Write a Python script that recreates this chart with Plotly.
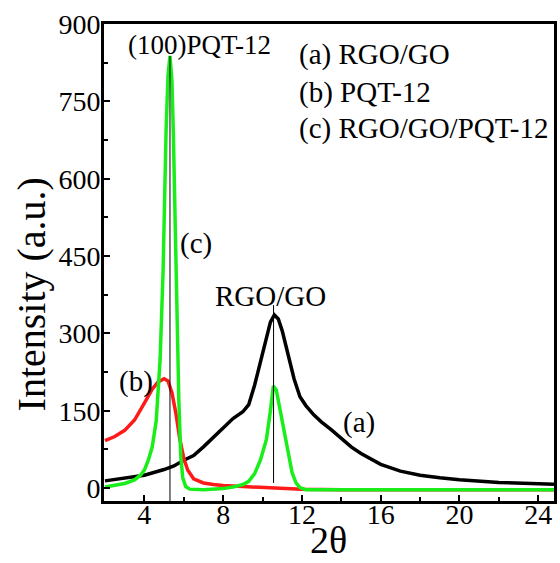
import plotly.graph_objects as go

# ---- data ----
x_a = [2.0, 3.0, 4.0, 5.0, 5.5, 6.0, 6.5, 7.0, 7.5, 8.0, 8.5, 9.0, 9.3, 9.6, 9.9, 10.2, 10.4, 10.6,
       10.8, 11.0, 11.3, 11.6, 11.9, 12.2, 12.6, 13.0, 13.5, 14.0, 14.5, 15.0, 15.5, 16.0, 17.0,
       18.0, 19.0, 20.0, 22.0, 24.0, 25.0]
y_a = [14, 19, 25, 36, 43, 54, 63, 80, 98, 118, 135, 148, 162, 200, 248, 295, 322, 336,
       328, 305, 258, 212, 177, 160, 142, 128, 113, 97, 80, 67, 56, 46, 33,
       25, 20, 16, 11, 8, 7]

x_b = [2.0, 2.5, 3.0, 3.5, 4.0, 4.4, 4.7, 5.0, 5.2, 5.4, 5.6, 5.8, 6.0, 6.2, 6.5, 7.0, 7.5,
       8.0, 9.0, 10.0, 11.0, 12.0, 14.0, 25.0]
y_b = [92, 100, 112, 132, 165, 192, 206, 212, 208, 185, 145, 95, 58, 35, 18, 10, 7,
       5, 3, 1, -1, -2, -3, -3]

x_c = [2.0, 2.5, 3.0, 3.5, 3.8, 4.0, 4.2, 4.4, 4.6, 4.8, 4.95, 5.1, 5.2, 5.3, 5.4, 5.47, 5.6,
       5.75, 5.85, 5.95, 6.1, 6.3, 7.0, 8.0, 8.5, 9.0, 9.3, 9.6, 9.9, 10.2, 10.4, 10.55, 10.7,
       10.85, 11.0, 11.25, 11.5, 11.7, 11.9, 12.2, 25.0]
y_c = [2, 5, 9, 16, 25, 35, 54, 80, 130, 250, 420, 690, 800, 838, 790, 690, 440,
       170, 60, 20, 3, -2, -3, -1, 2, 7, 13, 28, 55, 95, 150, 198, 190,
       160, 130, 75, 30, 10, 1, -3, -3]

# peak marker lines (position, bottom, top)
peak_x = [5.3, 10.56]
peak_lo = [-25, 10]
peak_hi = [838, 355]

y_ticks = [0, 150, 300, 450, 600, 750, 900]
x_ticks = [4, 8, 12, 16, 20, 24]

FONT = "Liberation Serif"

fig = go.Figure()
fig.add_trace(go.Scatter(x=x_a, y=y_a, mode="lines", line=dict(color="black", width=3.5)))
fig.add_trace(go.Scatter(x=x_b, y=y_b, mode="lines", line=dict(color="#ff1a1a", width=3.5)))
fig.add_trace(go.Scatter(x=x_c, y=y_c, mode="lines", line=dict(color="#1aee1a", width=3.5)))
for px, lo, hi in zip(peak_x, peak_lo, peak_hi):
    fig.add_trace(go.Scatter(x=[px, px], y=[lo, hi], mode="lines",
                             line=dict(color="black", width=1)))

ann_font = dict(family=FONT, size=29, color="black")
annotations = [
    dict(x=6.82, y=859, text="(100)PQT-12", font=dict(family=FONT, size=27, color="black")),
    dict(x=6.62, y=475, text="(c)", font=ann_font),
    dict(x=3.55, y=206, text="(b)", font=ann_font),
    dict(x=14.92, y=128, text="(a)", font=ann_font),
    dict(x=10.42, y=372, text="RGO/GO", font=ann_font),
    dict(x=11.75, y=840, text="(a) RGO/GO", font=ann_font, xanchor="left"),
    dict(x=11.75, y=768, text="(b) PQT-12", font=ann_font, xanchor="left"),
    dict(x=11.75, y=698, text="(c) RGO/GO/PQT-12", font=ann_font, xanchor="left"),
]
for a in annotations:
    a.setdefault("xanchor", "center")
    a.update(xref="x", yref="y", yanchor="middle", showarrow=False)
    fig.add_annotation(**a)

# axis titles
fig.add_annotation(x=-0.159, y=0.434, xref="paper", yref="paper", text="Intensity (a.u.)",
                   textangle=-90, showarrow=False, xanchor="center", yanchor="middle",
                   font=dict(family=FONT, size=40, color="black"))
fig.add_annotation(x=0.499, y=-0.13, xref="paper", yref="paper", text="2θ",
                   showarrow=False, xanchor="center", yanchor="bottom",
                   font=dict(family=FONT, size=38, color="black"))

fig.update_layout(
    width=560, height=563,
    margin=dict(l=104, r=3, t=24, b=62),
    paper_bgcolor="white", plot_bgcolor="white",
    showlegend=False,
    font=dict(family=FONT, color="black"),
)
fig.update_xaxes(range=[1.95, 24.8], tickvals=x_ticks, ticks="inside", ticklen=6, tickwidth=2,
                 tickcolor="black", showgrid=False, zeroline=False,
                 showline=True, linewidth=3, linecolor="black", mirror=True,
                 ticklabelstandoff=-14,
                 tickfont=dict(family=FONT, size=28, color="black"),
                 minor=dict(dtick=2, tick0=0, ticks="inside", ticklen=4, tickwidth=2, tickcolor="black"))
fig.update_yaxes(range=[-25, 900], tickvals=y_ticks, ticks="inside", ticklen=6, tickwidth=2,
                 tickcolor="black", showgrid=False, zeroline=False,
                 showline=True, linewidth=3, linecolor="black", mirror=True,
                 ticklabelstandoff=-5,
                 tickfont=dict(family=FONT, size=28, color="black"),
                 minor=dict(dtick=75, tick0=0, ticks="inside", ticklen=4, tickwidth=2, tickcolor="black"))

fig.write_html("out.html", config={"displayModeBar": False},
               post_script="document.body.style.margin='0';")
